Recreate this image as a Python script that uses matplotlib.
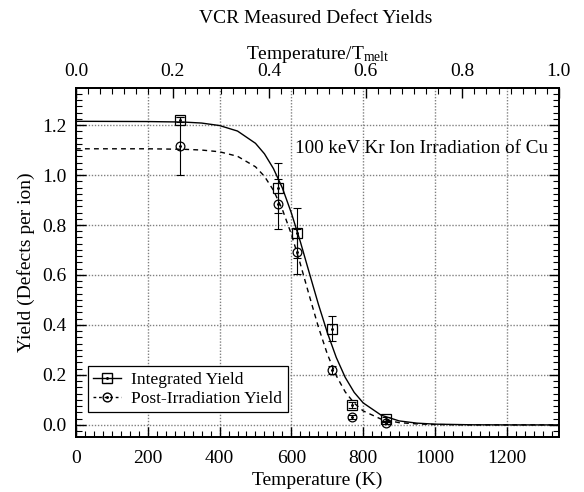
import matplotlib
matplotlib.use("Agg")
import matplotlib.pyplot as plt
from matplotlib.ticker import MultipleLocator, FixedLocator, FormatStrFormatter
from matplotlib.lines import Line2D

plt.rcParams['font.family'] = ['Liberation Serif', 'DejaVu Serif']
plt.rcParams['mathtext.fontset'] = 'custom'
plt.rcParams['mathtext.rm'] = 'Liberation Serif'
plt.rcParams['mathtext.it'] = 'Liberation Serif'

# --- data ---
T_meas = [290, 564, 615, 713, 769, 863]
integrated_yield = [1.222, 0.947, 0.767, 0.384, 0.080, 0.025]
integrated_err = [0.010, 0.100, 0.100, 0.050, 0.012, 0.008]
post_yield = [1.117, 0.884, 0.693, 0.220, 0.032, 0.008]
post_err = [0.115, 0.100, 0.090, 0.015, 0.008, 0.005]

# fitted curves
T_fit = [0, 200, 300, 350, 400, 450, 500, 525, 550, 575, 600, 625, 650, 675,
         700, 725, 750, 775, 800, 850, 900, 950, 1000, 1100, 1200, 1345]
integrated_fit = [1.215, 1.214, 1.212, 1.208, 1.198, 1.176, 1.127, 1.085, 1.026,
                  0.948, 0.848, 0.733, 0.608, 0.484, 0.370, 0.270, 0.190, 0.130,
                  0.088, 0.039, 0.016, 0.007, 0.003, 0.0005, 0.0001, 0.0]
post_fit = [1.105, 1.105, 1.103, 1.100, 1.093, 1.075, 1.033, 0.995, 0.939,
            0.862, 0.763, 0.644, 0.517, 0.393, 0.284, 0.197, 0.132, 0.087,
            0.056, 0.023, 0.009, 0.004, 0.0014, 0.0002, 0.0, 0.0]

T_melt = 1345.0
top_ticks = [0.0, 0.2, 0.4, 0.6, 0.8, 1.0]
title = "VCR Measured Defect Yields"
annotation = "100 keV Kr Ion Irradiation of Cu"
legend_labels = ["Integrated Yield", "Post-Irradiation Yield"]

fig = plt.figure(figsize=(5.84, 4.92), dpi=100)
ax = fig.add_axes([0.130, 0.112, 0.827, 0.709])

grid_kw = dict(color='#808080', linestyle=(0, (1, 1.2)), linewidth=1.0)
ax.grid(True, which='major', **grid_kw)
ax.set_axisbelow(True)

ax.plot(T_fit, integrated_fit, color='black', lw=1.0, zorder=3)
ax.plot(T_fit, post_fit, color='black', lw=1.0, ls=(0, (3.5, 3.0)), zorder=3)

eb_kw = dict(fmt='none', ecolor='black', elinewidth=0.8, capsize=2.7, capthick=0.8, zorder=4)
ax.errorbar(T_meas, integrated_yield, yerr=integrated_err, **eb_kw)
ax.errorbar(T_meas, post_yield, yerr=post_err, **eb_kw)
ax.plot(T_meas, integrated_yield, ls='none', marker='s', ms=6.5, mfc='none',
        mec='black', mew=0.9, zorder=5)
ax.plot(T_meas, integrated_yield, ls='none', marker='.', ms=2.2, color='black', zorder=6)
ax.plot(T_meas, post_yield, ls='none', marker='o', ms=6.3, mfc='none',
        mec='black', mew=0.9, zorder=5)
ax.plot(T_meas, post_yield, ls='none', marker='.', ms=2.2, color='black', zorder=6)

ax.set_xlim(0, T_melt)
ax.set_ylim(-0.048, 1.348)

ax.xaxis.set_major_locator(MultipleLocator(200))
ax.xaxis.set_minor_locator(MultipleLocator(25))
ax.yaxis.set_major_locator(MultipleLocator(0.2))
ax.yaxis.set_minor_locator(MultipleLocator(0.025))
ax.yaxis.set_major_formatter(FormatStrFormatter('%.1f'))

ax.tick_params(which='both', direction='in', top=False, right=True, labelsize=14)
ax.tick_params(which='major', length=7, width=1.0)
ax.tick_params(which='minor', length=4, width=0.8)
ax.tick_params(axis='x', which='major', pad=9.5)
ax.tick_params(axis='y', which='major', pad=6.5)
for s in ax.spines.values():
    s.set_linewidth(1.3)

ax.set_xlabel("Temperature (K)", fontsize=14, labelpad=3)
ax.set_ylabel("Yield (Defects per ion)", fontsize=14, labelpad=5)

ax2 = ax.twiny()
ax2.set_xlim(0, 1)
ax2.xaxis.set_major_locator(FixedLocator(top_ticks))
ax2.xaxis.set_minor_locator(MultipleLocator(0.025))
ax2.xaxis.set_major_formatter(FormatStrFormatter('%.1f'))
ax2.tick_params(which='both', direction='in', labelsize=14)
ax2.tick_params(which='major', length=7, width=1.0, pad=5.5)
ax2.tick_params(which='minor', length=4, width=0.8)
ax2.set_xlabel(r"Temperature/T$_{\mathrm{melt}}$", fontsize=14, labelpad=3.5)
for s in ax2.spines.values():
    s.set_linewidth(1.3)

fig.text(0.54, 0.962, title, ha='center', va='center', fontsize=14)

ax.text(1315, 1.088, annotation, ha='right', va='baseline', fontsize=13.8, zorder=7)

h1 = Line2D([], [], color='black', lw=1.0, marker='s', ms=6.5, mfc='none', mec='black')
d1 = Line2D([], [], ls='none', marker='.', ms=2.2, color='black')
h2 = Line2D([], [], color='black', lw=1.0, ls=(0, (2, 2)), marker='o', ms=6.3,
            mfc='none', mec='black')
d2 = Line2D([], [], ls='none', marker='.', ms=2.2, color='black')
leg = ax.legend([(h1, d1), (h2, d2)], legend_labels,
                loc='lower left', bbox_to_anchor=(0.025, 0.07), fontsize=12.5,
                frameon=True, fancybox=False, edgecolor='black', framealpha=1,
                handlelength=1.6, handletextpad=0.6, borderpad=0.3,
                labelspacing=0.2, borderaxespad=0)
leg.get_frame().set_linewidth(0.9)

fig.savefig("out.png", dpi=100)
